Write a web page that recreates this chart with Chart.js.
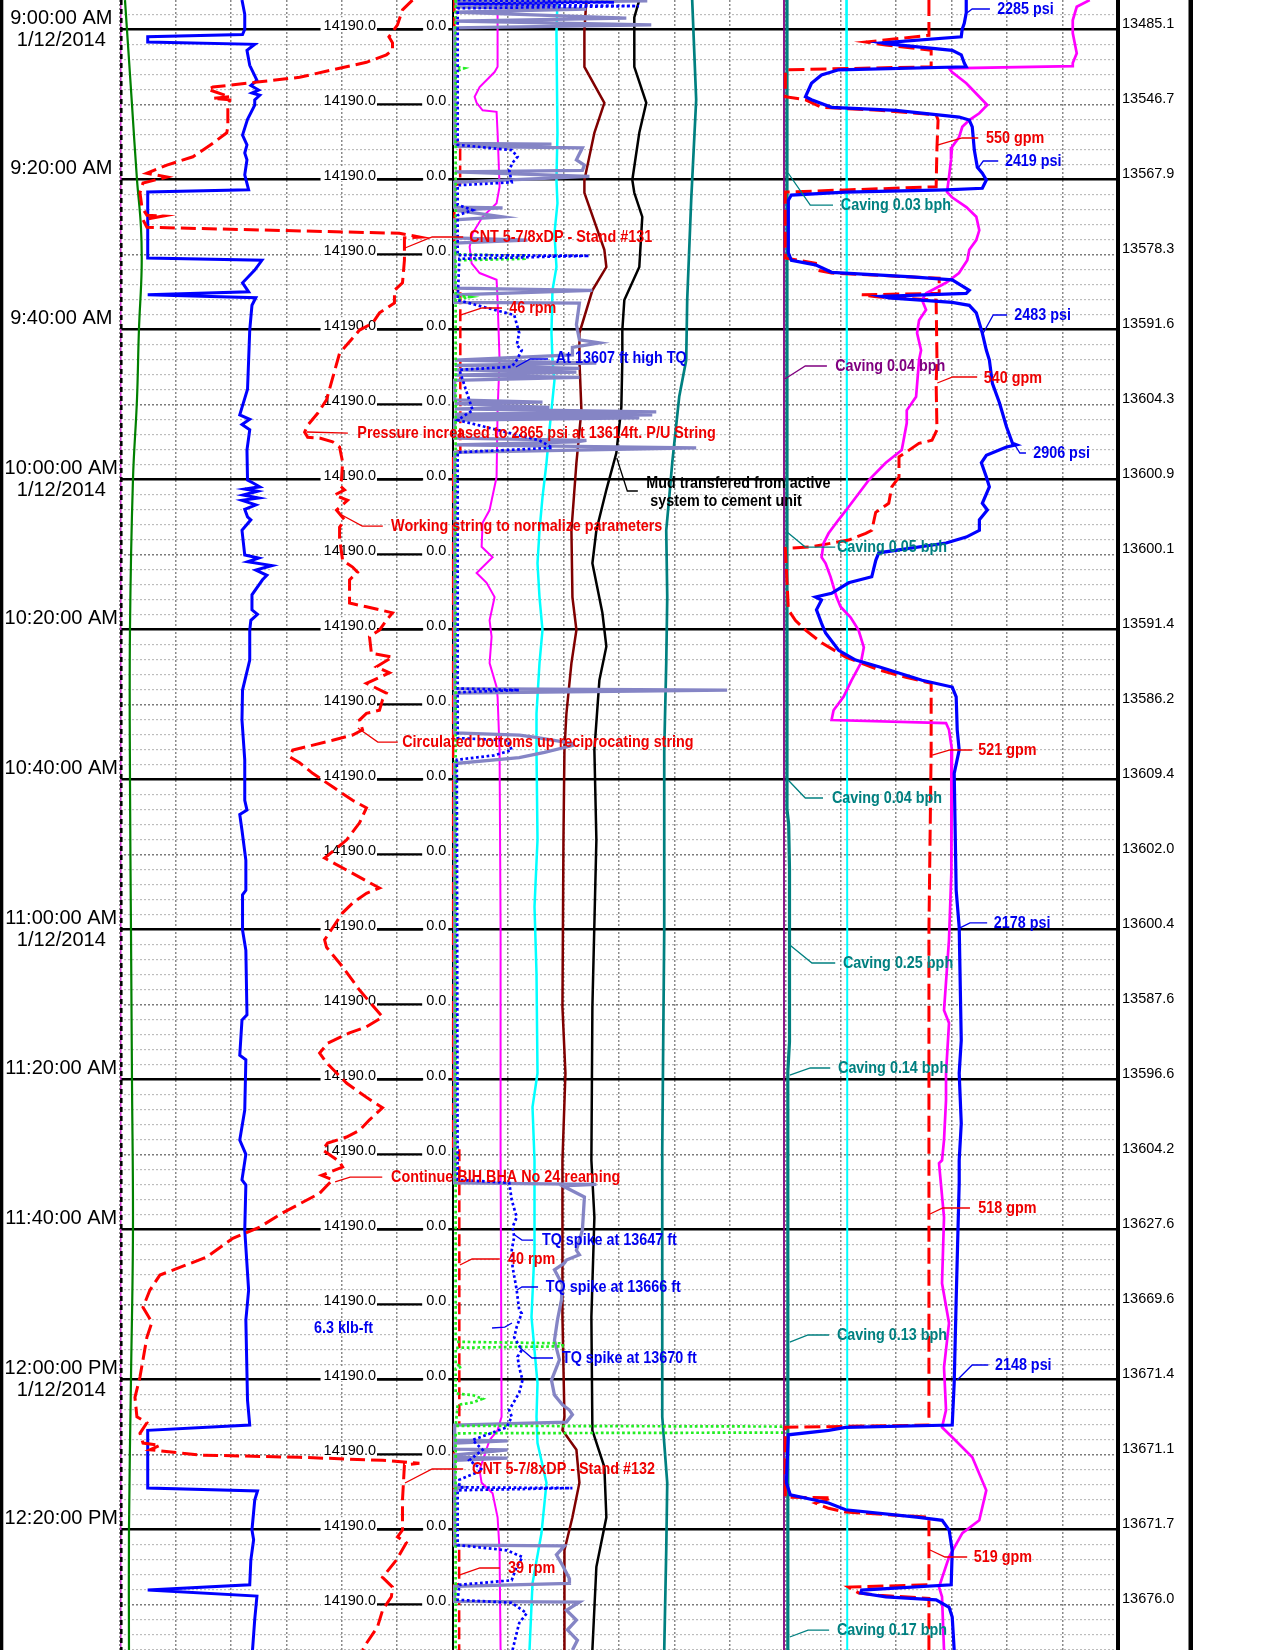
<!DOCTYPE html>
<html><head><meta charset="utf-8">
<script src="https://cdn.jsdelivr.net/npm/chart.js"></script>
<style>html,body{margin:0;padding:0;background:#fff;}canvas{display:block;}</style>
</head><body>
<canvas id="c" width="1275" height="1650"></canvas>
<script>
// ---------- time window (minutes after 9:00 AM, 1/12/2014) ----------
const T_MIN = -3.907, T_MAX = 216.093;
const timeLabelMinutes = [0,20,40,60,80,100,120,140,160,180,200];
const dateLabel = '1/12/2014';
const depthLabelMinutes = [0,10,20,30,40,50,60,70,80,90,100,110,120,130,140,150,160,170,180,190,200,210];
const depthLabels = ['13485.1','13546.7','13567.9','13578.3','13591.6','13604.3','13600.9','13600.1','13591.4','13586.2','13609.4','13602.0','13600.4','13587.6','13596.6','13604.2','13627.6','13669.6','13671.4','13671.1','13671.7','13676.0'];
const trackLabelA = '14190.0', trackLabelB = '0.0';

// ---------- Track 1 series [minute, value] ----------
const hookLoad = [[-3.9,220],[-2,225],[0,225],[0.7,221],[1.0,50],[1.7,50],[2.0,243],[2.8,229],[4.8,234],[6.8,247],[7.5,236],[8.1,250],[8.5,238],[8.8,252],[9.4,243],[10.1,243],[12,230],[14.1,221],[15.4,229],[16.5,225],[17.4,229],[19.4,225],[21.4,232],[21.7,50],[30.5,50],[30.8,256],[32.1,243],[33.8,221],[35.0,232],[35.4,50],[35.8,245],[36.8,238],[40.1,234],[44.1,232],[48,230],[51.4,216],[52,234],[52.7,220],[53.4,234],[56.1,229],[60.1,230],[60.5,240],[61.0,252],[61.3,225],[61.6,248],[62.1,222],[62.5,250],[62.8,220],[63.4,245],[64,225],[65,230],[65.4,236],[66.8,220],[70.1,225],[70.5,250],[71.0,230],[71.5,274],[72.1,245],[72.8,265],[73.4,257],[75.4,238],[77.4,238],[78,248],[78.8,236],[80.1,234],[84.1,234],[88.1,221],[92.1,220],[97.4,225],[102.8,225],[104.1,229],[104.7,216],[106.8,220],[110.8,227],[114.8,227],[115.4,221],[120.1,221],[122.8,227],[131.4,229],[132.1,220],[136.8,216],[137.4,227],[144.1,225],[148.1,216],[150,227],[153.4,220],[154.1,227],[160.1,225],[168.1,232],[172.1,227],[182.8,230],[186.1,234],[186.8,50],[194.5,50],[194.9,248],[196.1,243],[200.1,238],[201.4,241],[204.1,236],[207.4,234],[208.1,50],[208.9,247],[212,243],[216.1,239]];
const blockPos = [[-3.9,105.5],[-2.6,101.9],[-0.6,100.1],[1.0,97],[1.8,98.3],[2.8,98.3],[3.4,96.1],[4.4,88.9],[5.4,76.7],[6.4,64.8],[7.0,50.4],[7.7,33.5],[8.0,31.7],[9.0,39.6],[9.2,33.5],[9.4,39.6],[10.4,38.9],[13.0,38.9],[13.8,38.5],[15.2,33.5],[17.0,26.3],[18.1,16.9],[19.2,9.7],[19.7,16.9],[20.5,8.3],[21.8,7.2],[23.7,7.9],[24.8,9.7],[24.9,15.5],[25.4,8.3],[26.4,9.7],[27.2,100.8],[27.7,108],[27.8,102.6],[30.8,102.6],[33.8,101.9],[34.8,99],[36.5,99],[37.8,93.6],[39.2,91.1],[40.1,86.4],[43.2,79.2],[49.4,74.5],[51.2,71.3],[52.8,67.7],[53.7,66.6],[54.4,67.7],[54.5,72],[55.0,76.7],[55.7,79.2],[57.7,80.3],[60.1,79.9],[60.8,79.2],[61.4,81],[62.1,77.4],[62.8,82.1],[64.1,78.1],[65.4,81],[66.4,79.2],[67.8,79.2],[70.8,80.3],[71.7,83.9],[72.4,85.7],[73.4,82.8],[76.5,82.8],[77.0,88.9],[77.8,98.3],[78.8,96.1],[80.1,93.6],[81.0,90],[83.2,90.7],[83.7,98.3],[85.0,92.5],[85.8,97.2],[87.2,88.9],[88.5,96.1],[89.4,94.7],[90.8,93.6],[91.2,88.9],[92.1,86.4],[93.4,87.5],[94.1,83.9],[94.8,76.7],[96.1,62.3],[97.0,61.2],[97.8,64.8],[99.2,69.5],[101.0,76.7],[102.8,83.9],[103.8,88.9],[105.8,86.4],[108.1,81.7],[110.5,73.8],[112.1,81.7],[114.5,93.6],[115.2,88.9],[116.5,83.9],[117.8,80.3],[121.4,73.8],[122.4,74.5],[125.0,80.3],[128.1,86.4],[131.7,94.7],[133.0,88.9],[133.8,82.8],[135.2,74.9],[136.5,72],[137.8,74.5],[140.5,81.7],[142.4,88.9],[143.8,94.7],[145.4,90],[146.8,86.4],[147.7,81.7],[148.5,74.9],[149.4,73.1],[151.0,79.2],[151.7,80.3],[152.8,72.7],[153.4,76.7],[155.2,72],[157.8,58.7],[159.7,50.4],[161.2,40.7],[163.7,31.3],[166.1,14.4],[168.1,10.8],[170.4,8.3],[172.4,11.5],[174.4,9.7],[179.7,7.2],[182.4,5.4],[185.0,6.1],[185.8,9.7],[187.2,7.2],[188.5,8.3],[188.8,14.4],[189.4,10.8],[190.1,28.8],[190.4,64.8],[190.8,94.7],[191.2,108],[191.4,102.6],[196.1,101.9],[200.1,101.9],[201.0,100.1],[201.8,103.3],[204.1,99.7],[206.4,94.7],[207.7,98.3],[209.0,97.9],[210.8,94.7],[213.0,92.9],[215.2,88.9],[216.1,87.5]];
const gasTrace = [[-3.9,1.5],[10,3.6],[20,5.1],[26.4,6.3],[32,6.5],[40,5.7],[49.4,5.1],[60,3.9],[80,3.0],[100,3.0],[120,3.3],[140,3.6],[160,3.9],[180,3.3],[200,2.7],[216.1,2.7]];
const edgeMagenta = [[-3.9,0],[216.1,0]];
const edgeBlack = [[-3.9,0.4],[216.1,0.4]];

// ---------- Track 2 series ----------
const torque = [[-3.9,0.6],[-3.6,19.4],[-3.4,0.6],[-3.1,22.4],[-2.8,0.6],[15.4,0.6],[16.1,7.1],[17.0,7.8],[17.8,7.2],[18.8,6.8],[20.4,7.1],[20.8,0.6],[23.4,0.6],[24.1,2.4],[24.8,0.6],[30.1,0.6],[30.2,16.4],[30.6,0.8],[36.1,0.6],[38.1,7.4],[40.5,8],[42.1,7.7],[42.8,8.3],[44.1,7.7],[45.0,7.1],[45.4,0.8],[50.8,2.4],[52.1,0.6],[54.8,10.4],[55.8,12],[56.4,0.6],[87.9,0.6],[88.1,8],[88.4,0.6],[94.5,0.6],[94.8,6.6],[96.1,7.1],[96.8,5],[97.4,0.5],[153.4,0.6],[153.8,6.8],[156.1,7.1],[158.4,7.7],[159.7,7.2],[161.0,7.4],[162.8,7.1],[165.0,7.2],[168.1,7.7],[170.8,8],[171.2,8.3],[173.0,7.7],[174.4,7.4],[176.1,8.3],[177.0,7.8],[178.4,8],[180.1,8.4],[181.8,8],[184.1,6.8],[185.0,7.1],[186.4,6.5],[188.1,2.4],[189.4,3.6],[190.8,2],[192.1,3.6],[193.4,0.8],[194.4,0.8],[194.5,14.4],[194.8,0.6],[202.1,0.6],[202.8,6.5],[203.7,8.4],[205.0,7.7],[206.8,7.1],[207.4,0.8],[209.4,0.6],[209.8,7.1],[211.2,8.9],[212.5,8],[213.8,7.7],[216.1,7.2]];
const rpm = [[-3.9,10],[15.0,10],[15.2,45],[20.6,45],[20.8,10],[34.6,10],[34.8,46],[56.2,46],[56.5,3],[149,3],[149.2,40],[186.0,40],[186.3,8],[202.0,8],[202.2,39],[207.3,39],[207.5,8],[209.5,8],[209.7,39],[216.1,39]];
const greenDot = [[-3.9,0.9],[5.0,0.9],[5.2,3.5],[5.6,0.9],[30.0,0.9],[30.2,21.6],[30.6,21.6],[30.8,0.9],[35.5,0.9],[35.7,5.1],[36.0,0.9],[175.0,0.9],[175.2,33],[175.6,33],[175.8,0.9],[178.0,0.9],[178.3,2.7],[178.6,0.9],[181.9,0.9],[182.1,6],[182.6,9],[183.1,6],[183.4,1.5],[186.2,0.9],[186.3,99.6],[187.1,99.6],[187.2,0.9],[216.1,0.9]];
const lavender = [[-3.9,0.6],[-3.8,58.5],[-3.5,0.6],[-3.2,31.5],[-3.0,0.6],[-2.7,40.2],[-2.3,0.6],[-1.5,52.2],[-1.1,0.6],[-0.6,59.7],[-0.2,0.6],[15.2,0.6],[15.3,29.7],[15.6,0.6],[15.8,39],[17.4,37.2],[18.1,39.6],[18.8,39],[19.0,0.6],[19.6,41.1],[20.4,0.6],[23.7,0.6],[23.8,15],[24.1,0.6],[25.0,15],[25.4,0.6],[27.8,0.6],[28.1,22.5],[28.5,0.6],[34.5,0.6],[34.8,42],[35.4,0.6],[36.4,0.6],[36.5,38.1],[39.4,37.2],[41.4,38.1],[41.8,44.1],[42.4,36],[43.4,36],[44.1,0.6],[44.5,43.2],[44.8,0.6],[45.2,38.1],[45.4,0.6],[45.7,37.2],[46.1,0.6],[46.4,38.1],[46.8,0.6],[49.4,0.6],[49.7,27],[49.9,0.6],[50.4,29.1],[50.6,0.6],[51.0,61.2],[51.3,0.6],[51.4,60],[51.7,0.6],[51.8,56.1],[52.1,0.6],[54.5,0.6],[54.8,40.2],[55.0,37.2],[55.4,0.6],[55.8,73.2],[56.4,0.6],[87.9,0.6],[88.1,82.5],[88.5,0.6],[93.8,0.6],[94.1,20.1],[94.4,25],[95.2,36],[95.5,36],[96.4,27.6],[97.1,20],[97.9,0.6],[153.8,0.6],[154.0,43.2],[154.2,33],[155.7,39.6],[160.1,39],[162.8,37.2],[163.4,38.1],[164.1,34.2],[164.5,33.6],[165.4,30.6],[167.4,33],[169.4,32.7],[172.1,31.5],[174.8,30.6],[177.4,32.1],[180.1,29.7],[182.1,30.6],[183.4,33],[184.1,35.1],[184.7,36],[185.7,34.2],[186.1,0.6],[188.1,0.6],[188.2,16.5],[188.5,0.6],[189.3,0.6],[189.4,16.5],[190.1,0.6],[190.4,0.6],[190.5,16.5],[190.8,0.6],[194.3,0.6],[194.4,3],[194.8,0.6],[202.1,0.6],[202.2,33.6],[203.4,31.2],[204.8,33],[206.5,35],[207.2,35.1],[207.6,0.6],[209.6,0.6],[209.7,38.1],[210.8,34.2],[212.1,37.2],[213.4,34.5],[214.8,37.5],[216.1,36]];
const magenta2 = [[-3.9,13.5],[5.0,13.5],[5.7,12.6],[7.7,8.1],[9.0,6.6],[9.8,7.2],[10.8,9],[11.0,13.2],[13.8,13.5],[21.0,14.1],[23.2,13.2],[25.0,9],[27.2,6],[29.0,5.1],[31.2,5.7],[32.5,8.1],[33.4,13.2],[36.1,13.5],[44.1,14.1],[50.8,13.5],[59.7,13.2],[64.1,11.1],[65.8,9],[69.0,8.7],[70.4,12],[72.5,7.2],[73.8,10.2],[75.7,12.6],[78.8,11.1],[81.0,11.7],[84.5,11.1],[87.7,13.2],[89.0,13.5],[96.1,14.1],[120,14.4],[149.4,14.4],[185.0,14.7],[186.8,13.5],[188.1,11.1],[192.1,8.1],[193.8,8.7],[195.2,12],[198.4,13.5],[202.8,14.1],[216.1,14.4]];
const cyan2 = [[-3.9,31.5],[0.5,31.2],[13.8,31.5],[20.1,31.2],[23.2,31.5],[27.2,30.6],[31.7,31.2],[34.8,30],[40.5,29.7],[44.1,30],[46.8,30.6],[53.4,29.1],[57.8,28.2],[62.4,27],[66.8,26.1],[71.2,25.5],[75.7,26.1],[80.1,27],[84.5,26.1],[91.2,25.2],[96.1,25.2],[108.1,25.5],[117.0,24.6],[125.8,25.2],[139.2,25.5],[143.7,24],[150.8,24.6],[162.8,24.6],[171.7,23.7],[180.5,25.5],[185.0,25.2],[188.5,25.5],[193.8,28.2],[200.5,26.7],[207.2,24],[216.1,23.1]];
const maroon2 = [[-3.9,40.2],[0.1,39.6],[5.0,39.6],[9.8,45.6],[13.8,42.6],[20.1,39.6],[21.8,39.6],[29.4,45.6],[31.7,46.2],[34.8,42],[40.5,38.1],[44.1,38.1],[50.8,38.7],[57.8,37.2],[66.8,35.7],[75.7,36],[80.1,37.2],[84.5,35.7],[91.2,34.2],[96.1,33.6],[108.1,33.3],[130.4,33],[139.2,33.9],[150.8,33],[171.7,33],[185.0,33.6],[186.8,33],[189.4,37.2],[193.8,38.1],[198.4,36],[202.8,33.6],[216.1,33.6]];
const black2 = [[-3.9,56.1],[-1.6,54.6],[5.0,54.6],[9.8,58.2],[13.8,56.1],[20.1,54],[21.8,54.6],[25.0,57],[31.7,56.1],[36.1,51.6],[40.1,51],[44.1,51],[50.4,50.7],[56.5,49.2],[61.4,46.2],[66.8,43.2],[71.2,42],[77.8,45],[82.3,46.2],[86.8,44.1],[96.1,42.6],[108.1,43.2],[130.4,42],[150.8,41.7],[158.4,42.6],[171.7,41.7],[186.8,42],[191.7,45.6],[198.4,46.2],[205.0,43.2],[216.1,42]];
const teal2 = [[-3.9,72],[9.4,73.2],[22.8,71.7],[36.1,70.5],[44.1,70.2],[49.0,68.1],[57.8,66],[62.4,65.1],[66.8,64.2],[75.7,64.5],[84.5,64.2],[96.1,63.6],[120,63.6],[149.4,63],[185.0,63],[193.8,64.5],[202.8,64.2],[216.1,63.6]];
const purpleEdge = [[-3.9,99.6],[216.1,99.6]];

// ---------- Track 3 series ----------
const pressure = [[-3.9,2284],[-2.2,2284],[-0.8,2259],[0,2233],[1.0,2221],[1.8,1218],[1.9,1269],[2.8,2107],[3.4,2221],[4.5,2259],[5.0,2284],[5.4,673],[6.1,457],[7.2,330],[9.0,254],[9.4,330],[10.4,584],[10.8,1396],[11.7,2195],[12.1,2322],[13.0,2360],[16.1,2386],[18.4,2424],[19.2,2487],[20.1,2538],[21.2,2487],[21.4,2030],[21.7,761],[22.1,76],[22.8,38],[29.8,38],[30.8,76],[31.4,381],[32.4,584],[33.0,1599],[33.4,2107],[34.8,2322],[35.2,2284],[35.6,1218],[35.8,1307],[36.4,2107],[36.8,2322],[37.8,2411],[40.5,2487],[42.8,2538],[44.1,2576],[47.2,2614],[49.8,2703],[53.0,2792],[55.2,2868],[55.4,2919],[55.7,2792],[56.8,2538],[57.8,2475],[59.7,2538],[61.0,2576],[63.2,2487],[64.1,2551],[65.4,2450],[66.8,2450],[67.7,2284],[68.5,2030],[69.8,1180],[70.8,1142],[73.0,1091],[73.8,799],[75.2,584],[75.7,381],[76.1,457],[77.4,393],[79.2,457],[80.5,508],[82.8,673],[84.1,888],[85.0,1180],[86.8,1726],[87.7,2107],[89.0,2157],[93.4,2170],[96.1,2195],[99.2,2132],[114.8,2157],[119.7,2195],[134.8,2221],[139.2,2195],[145.9,2221],[150.8,2195],[153.8,2195],[169.4,2157],[180.5,2132],[186.1,2107],[186.4,761],[186.8,546],[187.4,38],[193.8,13],[195.4,63],[196.5,546],[197.4,761],[198.4,1687],[198.8,1980],[200.1,2068],[202.8,2107],[207.4,2094],[208.1,964],[208.5,952],[209.0,1269],[209.4,1904],[210.4,2068],[211.7,2107],[216.1,2132]];
const flow = [[-3.9,518],[0.8,518],[1.7,290],[2.1,362],[2.8,526],[5.0,526],[5.4,0],[9.0,0],[9.4,73],[10.4,131],[10.8,337],[11.4,544],[12.1,551],[15.7,547],[21.0,544],[21.7,0],[30.5,0],[31.2,109],[32.1,112],[32.5,167],[33.2,555],[35.2,555],[35.4,276],[35.7,337],[36.1,544],[44.1,547],[47.2,544],[53.4,547],[54.8,529],[55.2,482],[56.4,435],[57.0,410],[59.7,410],[61.0,384],[63.2,373],[64.4,326],[66.8,312],[67.2,290],[68.1,228],[69.0,94],[69.2,0],[77.4,11],[78.8,36],[80.1,73],[81.8,131],[83.7,218],[85.4,337],[86.4,435],[87.2,526],[96.1,526],[120,518],[186.1,518],[186.4,0],[195.7,0],[195.8,167],[196.5,109],[197.2,156],[197.7,218],[198.4,518],[207.4,518],[207.7,228],[208.5,265],[208.8,337],[209.2,518],[216.1,518]];
const magenta3 = [[-3.9,91.5],[-3.0,87.6],[-1.2,86.4],[0.5,86.4],[3.2,87.6],[4.5,86.4],[4.9,86.4],[5.2,49.2],[5.7,50.1],[7.2,54.4],[9.0,58.3],[10.1,60.7],[11.2,58.3],[12.1,55.3],[13.0,53.2],[14.4,52.2],[15.7,50.1],[17.4,49.8],[19.7,49.2],[21.7,48.6],[22.4,50.1],[23.7,54.4],[25.0,57.4],[26.8,58.3],[28.1,57.4],[29.4,55.3],[30.8,54.7],[32.5,52.2],[33.8,48.3],[35.2,42.3],[36.1,41.1],[37.4,42.3],[38.8,40.2],[40.5,39.6],[42.8,40.8],[44.1,40.2],[49.0,39.3],[50.8,36.5],[52.5,36.5],[56.1,35],[57.8,30.2],[60.1,25.1],[63.7,19],[65.4,16],[67.2,13],[68.5,11.5],[70.4,10.9],[71.2,12.1],[73.0,13.6],[75.7,15.4],[77.0,16.6],[78.4,19.6],[80.1,22],[82.4,23.6],[84.5,22.7],[86.8,19.9],[89.0,17.5],[90.8,14.5],[92.1,13.9],[92.5,48.3],[93.4,49.2],[96.1,50.1],[100.1,49.8],[103.7,50.1],[112.5,49.8],[121.4,49.2],[130.8,47.7],[132.5,49.2],[139.2,48.3],[142.8,48.3],[148.1,47.7],[150.8,47.1],[151.2,46.2],[158.4,47.7],[167.2,47.1],[172.5,49.2],[178.4,47.7],[184.1,48.3],[186.4,47.1],[187.7,50.1],[190.4,56.2],[194.8,60.4],[198.8,58.3],[200.5,53.2],[203.7,49.2],[207.7,46.2],[209.0,47.1],[216.1,47.7]];
const cyan3 = [[-3.9,18.3],[60,18.5],[120,18.6],[216.1,18.6]];
const caving = [[-3.9,0.1],[104,0.1],[106,0.2],[112,0.25],[135,0.25],[139,0.15],[216.1,0.15]];

// ---------- annotations: [text, colour key, leader [[division, minute]...], text division, text minute] ----------
const notes = [
 ['2285 psi','b',[[15.28,-2.21],[15.37,-2.71],[15.69,-2.71]],15.82,-2.71],
 ['550 gpm','r',[[14.74,15.43],[15.19,14.49],[15.48,14.49]],15.62,14.49],
 ['2419 psi','b',[[15.48,18.49],[15.57,17.56],[15.84,17.56]],15.96,17.56],
 ['Caving 0.03 bph','t',[[12.05,19.16],[12.45,23.43],[12.86,23.43]],13.00,23.43],
 ['CNT 5-7/8xDP - Stand #131','r',[[5.14,29.16],[5.63,27.69],[6.19,27.69]],6.30,27.69],
 ['46 rpm','r',[[6.15,38.09],[6.53,37.16],[6.89,37.16]],7.02,37.16],
 ['2483 psi','b',[[15.57,40.49],[15.75,38.09],[16.00,38.09]],16.13,38.09],
 ['At 13607 ft high TQ','b',[[7.14,45.03],[7.40,43.96],[7.72,43.96]],7.86,43.83],
 ['Caving 0.04 bph','p',[[11.99,46.63],[12.36,44.89],[12.75,44.89]],12.90,44.89],
 ['540 gpm','r',[[14.74,47.16],[15.02,46.36],[15.46,46.36]],15.58,46.49],
 ['Pressure increased to 2865 psi at 13614ft. P/U String','r',[[3.37,53.69],[4.11,53.83]],4.28,53.83],
 ['2906 psi','b',[[16.14,55.43],[16.23,56.49],[16.34,56.49]],16.47,56.49],
 ['Mud transfered from active','k',[[8.96,57.16],[9.15,61.56],[9.34,61.56]],9.49,60.49],
 [' system to cement unit','k',[],9.49,62.89],
 ['Working string to normalize parameters','r',[[4.00,64.76],[4.37,66.23],[4.74,66.23]],4.89,66.23],
 ['Caving 0.05 bph','t',[[12.03,67.03],[12.36,69.03],[12.90,69.03]],12.93,69.03],
 ['Circulated bottoms up reciprocating string','r',[[4.29,93.16],[4.65,95.03],[5.01,95.03]],5.09,95.03],
 ['521 gpm','r',[[14.65,96.76],[14.97,96.09],[15.37,96.09]],15.48,96.09],
 ['Caving 0.04 bph','t',[[12.05,100.09],[12.36,102.49],[12.68,102.49]],12.84,102.49],
 ['2178 psi','b',[[15.15,119.8],[15.33,119.15],[15.64,119.15]],15.76,119.15],
 ['Caving 0.25 bph','t',[[12.08,122.09],[12.48,124.49],[12.90,124.49]],13.04,124.49],
 ['Caving 0.14 bph','t',[[12.08,139.43],[12.45,138.49],[12.81,138.49]],12.95,138.49],
 ['Continue BIH BHA No 24 reaming','r',[[3.88,153.69],[4.15,153.03],[4.73,153.03]],4.89,153.03],
 ['518 gpm','r',[[14.61,157.96],[14.84,157.16],[15.33,157.16]],15.48,157.16],
 ['TQ spike at 13647 ft','b',[[7.12,160.76],[7.25,161.43],[7.45,161.43]],7.61,161.43],
 ['40 rpm','r',[[6.13,164.76],[6.35,163.96],[6.85,163.96]],7.00,163.96],
 ['TQ spike at 13666 ft','b',[[7.16,168.09],[7.25,167.69],[7.54,167.69]],7.68,167.69],
 ['6.3 klb-ft','b',[[6.71,173.16],[6.94,173.03],[7.07,172.49]],3.50,173.16],
 ['Caving 0.13 bph','t',[[12.08,175.03],[12.41,174.09],[12.79,174.09]],12.93,174.09],
 ['TQ spike at 13670 ft','b',[[7.22,175.83],[7.43,177.16],[7.81,177.16]],7.97,177.16],
 ['2148 psi','b',[[15.10,180.09],[15.37,178.09],[15.66,178.09]],15.78,178.09],
 ['CNT 5-7/8xDP - Stand #132','r',[[5.14,193.83],[5.63,191.96],[6.19,191.96]],6.35,191.96],
 ['519 gpm','r',[[14.61,202.76],[14.88,203.69],[15.28,203.69]],15.40,203.69],
 ['39 rpm','r',[[6.13,206.09],[6.49,205.16],[6.85,205.16]],7.00,205.16],
 ['Caving 0.17 bph','t',[[12.08,214.36],[12.41,213.43],[12.79,213.43]],12.93,213.43]
];
const noteColors = {b:'#0000ee', r:'#ee0000', t:'#008080', p:'#800080', k:'#000000'};

// ---------- chart ----------
const FONT = '"Liberation Sans", Arial, Helvetica, sans-serif';
Chart.defaults.font.family = FONT;

function fmtTime(m){
  const tot = 540 + m; let h = Math.floor(tot/60); const mm = tot % 60;
  const ap = h >= 12 ? 'PM' : 'AM'; h = h % 12 || 12;
  return h + ':' + String(mm).padStart(2,'0') + ':00 ' + ap;
}
function range(a,b,s,f){ const r=[]; for(let v=a; v<=b+1e-9; v+=s){ if(!f||f(v)) r.push(v);} return r; }
const minorTicks = range(-2,216,2,v=>v%10!==0);
const tenTicks = range(10,210,10,v=>v%20!==0);
const twentyTicks = range(0,200,20);
const divTicks = range(0,18,1);

function trackAxis(track, lo, hi){ const s = hi-lo; return {type:'linear', display:false, min: lo - track*s, max: lo + (3-track)*s}; }
function setTicks(arr){ return s => { s.ticks = arr.map(v=>({value:v})); }; }
function noPad(s){ s.paddingTop = 0; s.paddingBottom = 0; s.paddingLeft = 0; s.paddingRight = 0; }
function gridY(arr, color, width, dash, z){
  return {type:'linear', position:'left', reverse:true, min:T_MIN, max:T_MAX, afterBuildTicks:setTicks(arr),
    afterFit:s=>{s.width=0; noPad(s);}, ticks:{display:false}, grid:{color:color, lineWidth:width, drawTicks:false, z:z},
    border:{display:false, dash:dash}};
}
function ds(arr, axis, color, width, dash, extra){
  return Object.assign({data: arr.map(p=>({x:p[1], y:p[0]})), xAxisID:axis, yAxisID:'yTime', borderColor:color,
    backgroundColor:color, borderWidth:width, borderDash:dash||[], showLine:true, pointRadius:0, tension:0, fill:false}, extra||{});
}

const plugins = [{
  id:'bg', beforeDraw(chart){ const c=chart.ctx; c.save(); c.fillStyle='#fff'; c.fillRect(0,0,chart.width,chart.height); c.restore(); }
},{
  id:'trackLabels', beforeDatasetsDraw(chart){
    const c=chart.ctx, xs=chart.scales.xGrid, ys=chart.scales.yTime;
    c.save(); c.font='14.5px '+FONT; c.textAlign='right'; c.textBaseline='alphabetic';
    const xA=xs.getPixelForValue(4.617), xB=xs.getPixelForValue(5.885), xS=xs.getPixelForValue(5.45);
    const wA=c.measureText(trackLabelA).width, wB=c.measureText(trackLabelB).width;
    for(const t of depthLabelMinutes){
      const py=ys.getPixelForValue(t);
      c.fillStyle='#fff'; c.fillRect(xA-wA-3,py-12,wA+4,14); c.fillRect(xB-wB-3,py-12,wB+5,14);
      c.strokeStyle='#000'; c.lineWidth=2.2; c.beginPath(); c.moveTo(xA+1,py); c.lineTo(xS,py); c.stroke();
      c.fillStyle='#000'; c.fillText(trackLabelA,xA,py+0.5); c.fillText(trackLabelB,xB,py+0.5);
    }
    c.restore();
  }
},{
  id:'notes', afterDatasetsDraw(chart){
    const c=chart.ctx, xs=chart.scales.xGrid, ys=chart.scales.yTime;
    c.save();
    for(const n of notes){
      const col=noteColors[n[1]];
      if(n[2].length){
        c.strokeStyle=col; c.lineWidth=1.3; c.setLineDash([]); c.beginPath();
        n[2].forEach((p,i)=>{ const px=xs.getPixelForValue(p[0]), py=ys.getPixelForValue(p[1]); if(i) c.lineTo(px,py); else c.moveTo(px,py); });
        c.stroke();
      }
      c.save(); c.translate(xs.getPixelForValue(n[3]), ys.getPixelForValue(n[4])); c.scale(0.845,1);
      c.font='bold 17px '+FONT; c.fillStyle=col; c.textBaseline='middle'; c.textAlign='left';
      c.fillText(n[0],0,0); c.restore();
    }
    c.restore();
  }
},{
  id:'frame', afterDraw(chart){ const c=chart.ctx; c.save(); c.fillStyle='#000'; c.fillRect(0,0,3.3,chart.height); c.fillRect(1188.5,0,4.5,chart.height); c.restore(); }
}];

new Chart(document.getElementById('c'), {
  type:'scatter',
  data:{ datasets:[
    // track 3 (top-most first)
    ds(pressure,'x_psi','#0000ff',3.2),
    ds(magenta3,'x_t3','#ff00ff',2.7),
    ds(flow,'x_gpm','#ff0000',3,[16,6]),
    ds(cyan3,'x_t3','#00ffff',2),
    ds(caving,'x_cav','#008080',3.2),
    ds(purpleEdge,'x_t2','#800080',1.8),
    // track 2
    ds(torque,'x_tq','#0000ff',2.7,[2.7,2.6]),
    ds(greenDot,'x_t2','#22ee22',2.7,[2.7,2.6]),
    ds(lavender,'x_t2','#8585c5',3.3),
    ds(rpm,'x_rpm','#ff0000',2.5,[12,5]),
    ds(magenta2,'x_t2','#ff00ff',2),
    ds(cyan2,'x_t2','#00ffff',2.5),
    ds(maroon2,'x_t2','#800000',2.5),
    ds(black2,'x_t2','#000000',2.5),
    ds(teal2,'x_t2','#008080',2.7),
    // track 1
    ds(blockPos,'x_block','#ff0000',3,[15,6]),
    ds(hookLoad,'x_hkld','#0000ff',3),
    ds(gasTrace,'x_t1','#008000',2.2,[],{tension:0.4}),
    ds(edgeBlack,'x_t1','#000000',2.5,[5,4]),
    ds(edgeMagenta,'x_t1','#cc33cc',3)
  ]},
  options:{
    responsive:false, animation:false, events:[],
    layout:{padding:0},
    plugins:{legend:{display:false}, tooltip:{enabled:false}, title:{display:false}},
    scales:{
      yTime:{type:'linear', position:'left', reverse:true, min:T_MIN, max:T_MAX,
        afterBuildTicks:setTicks(timeLabelMinutes), afterFit:s=>{s.width=120; noPad(s);},
        grid:{display:false, drawTicks:false}, border:{display:false},
        ticks:{callback:(v)=>[fmtTime(v), v%60===0 ? dateLabel : ''], font:{family:FONT, size:20, lineHeight:1.1},
          color:'#000', crossAlign:'center', padding:2, autoSkip:false, maxRotation:0}},
      yDepth:{type:'linear', position:'right', reverse:true, min:T_MIN, max:T_MAX,
        afterBuildTicks:setTicks(depthLabelMinutes), afterFit:s=>{s.width=157; noPad(s);},
        grid:{display:false, drawTicks:false}, border:{display:false},
        ticks:{callback:(v,i)=>depthLabels[i], font:{family:FONT, size:14.5}, color:'#000', padding:4,
          labelOffset:-5.5, autoSkip:false}},
      yMinor: gridY(minorTicks,'#bdbdbd',1.2,[2,2],-4),
      yTen: gridY(tenTicks,'#7a7a7a',1.5,[2,2],-3),
      yTwenty: gridY(twentyTicks,'#000000',2.5,[],-1),
      xGrid:{type:'linear', position:'bottom', min:0, max:18, afterBuildTicks:setTicks(divTicks), afterFit:s=>{s.height=0; noPad(s);},
        ticks:{display:false}, grid:{color:'#8a8a8a', lineWidth:1.5, drawTicks:false, z:-2}, border:{display:false, dash:[2,2]}},
      xBorder:{type:'linear', position:'bottom', min:0, max:18, afterBuildTicks:setTicks([6,18]), afterFit:s=>{s.height=0; noPad(s);},
        ticks:{display:false}, grid:{color:'#000', lineWidth:(c)=> c.tick && c.tick.value===18 ? 4 : 2, drawTicks:false, z:-1}, border:{display:false}},
      x_hkld: trackAxis(0,0,600),
      x_block: trackAxis(0,0,120),
      x_t1: trackAxis(0,0,100),
      x_tq: trackAxis(1,0,40),
      x_rpm: trackAxis(1,0,2000),
      x_t2: trackAxis(1,0,100),
      x_psi: trackAxis(2,0,4200),
      x_gpm: trackAxis(2,0,1200),
      x_t3: trackAxis(2,0,100),
      x_cav: trackAxis(2,0,20)
    }
  },
  plugins: plugins
});
</script>
</body></html>
